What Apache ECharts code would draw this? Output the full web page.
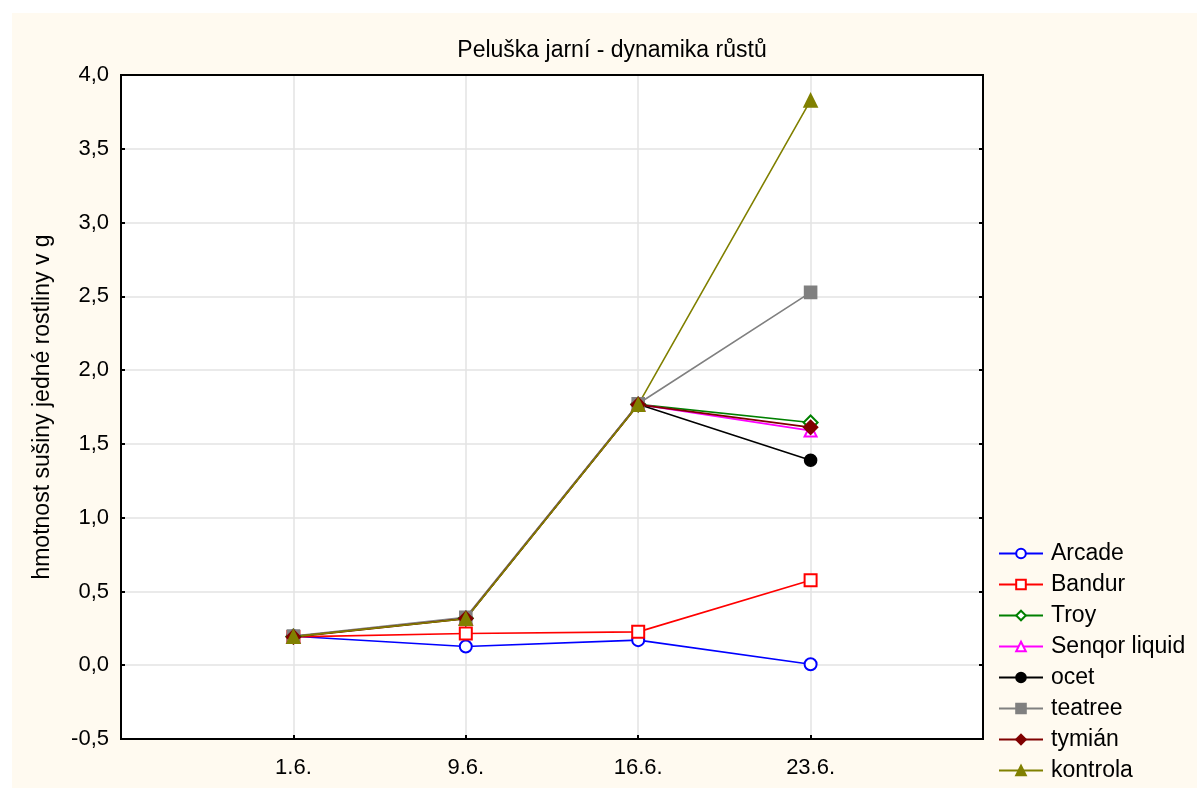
<!DOCTYPE html>
<html>
<head>
<meta charset="utf-8">
<script src="https://cdn.jsdelivr.net/npm/echarts@6/dist/echarts.min.js"></script>
<style>
  html, body { margin: 0; padding: 0; background: #ffffff; }
  #chart { position: absolute; left: 12px; top: 13px; width: 1185px; height: 775px; background: #FFFAF0; }
</style>
</head>
<body>
<div id="chart"></div>
<script>
const dates = ['1.6.', '9.6.', '16.6.', '23.6.'];
const yTicks = [-0.5, 0, 0.5, 1, 1.5, 2, 2.5, 3, 3.5, 4];

const arcade   = [0.196, 0.127, 0.170, 0.007];
const bandur   = [0.192, 0.215, 0.226, 0.576];
const troy     = [0.195, 0.318, 1.768, 1.645];
const senqor   = [0.195, 0.318, 1.768, 1.590];
const ocet     = [0.195, 0.318, 1.768, 1.389];
const teatree  = [0.198, 0.325, 1.772, 2.527];
const tymian   = [0.192, 0.316, 1.766, 1.612];
const kontrola = [0.194, 0.315, 1.766, 3.828];

const seriesDefs = [
  { name: 'Arcade', data: arcade, color: '#0000FF', symbol: 'emptyCircle', size: 12 },
  { name: 'Bandur', data: bandur, color: '#FF0000', symbol: 'emptyRect', size: 12 },
  { name: 'Troy', data: troy, color: '#008000', symbol: 'emptyDiamond', size: 14 },
  { name: 'Senqor liquid', data: senqor, color: '#FF00FF', symbol: 'emptyTriangle', size: 12 },
  { name: 'ocet', data: ocet, color: '#000000', symbol: 'circle', size: 12 },
  { name: 'teatree', data: teatree, color: '#808080', symbol: 'rect', size: 12 },
  { name: 'tymián', data: tymian, color: '#800000', symbol: 'diamond', size: 14 },
  { name: 'kontrola', data: kontrola, color: '#808000', symbol: 'triangle', size: 13 }
];

const font = 'Liberation Sans, Arial, sans-serif';
const chart = echarts.init(document.getElementById('chart'));

const series = seriesDefs.map(s => ({
  name: s.name,
  type: 'line',
  data: s.data.map((v, i) => [i + 1, v]),
  symbol: s.symbol,
  symbolSize: s.size,
  showSymbol: true,
  color: s.color,
  lineStyle: { color: s.color, width: 1.6 },
  itemStyle: { color: s.color, borderColor: s.color, borderWidth: 1.6 },
  animation: false
}));

const blackLine = { show: true, onZero: false, lineStyle: { color: '#000', width: 2 } };
const inTick = { show: true, inside: true, length: 4, lineStyle: { color: '#000', width: 2 } };
const grayGrid = { show: true, lineStyle: { color: '#E3E3E3', width: 1.5 } };

chart.setOption({
  animation: false,
  backgroundColor: '#FFFAF0',
  title: {
    text: 'Peluška jarní - dynamika růstů',
    left: 595, top: 21, textAlign: 'center',
    textStyle: { fontFamily: font, fontSize: 23, fontWeight: 'normal', color: '#000' }
  },
  grid: {
    left: 109, top: 62, width: 862, height: 664,
    show: true, backgroundColor: '#FFFFFF', borderColor: '#000000', borderWidth: 2
  },
  legend: {
    orient: 'vertical', left: 986, top: 529, padding: 0, height: 246,
    itemWidth: 44, itemHeight: 12, itemGap: 8,
    textStyle: { fontFamily: font, fontSize: 23, color: '#000', padding: [0, 0, 0, 3] },
    data: seriesDefs.map(s => s.name)
  },
  xAxis: [{
    type: 'value', min: 0, max: 5, interval: 1,
    axisLine: blackLine,
    axisTick: inTick,
    splitLine: grayGrid,
    axisLabel: {
      margin: 18, fontFamily: font, fontSize: 22, color: '#000',
      formatter: v => dates[v - 1] || ''
    }
  }, {
    type: 'value', position: 'top', min: 0, max: 5, interval: 1,
    axisLine: blackLine,
    axisTick: { show: false },
    splitLine: { show: false },
    axisLabel: { show: false }
  }],
  yAxis: [{
    type: 'value', min: yTicks[0], max: yTicks[yTicks.length - 1], interval: 0.5,
    name: 'hmotnost sušiny jedné rostliny v g',
    nameLocation: 'middle', nameGap: 67, nameRotate: 90,
    nameTextStyle: { fontFamily: font, fontSize: 23, color: '#000' },
    axisLine: blackLine,
    axisTick: inTick,
    splitLine: grayGrid,
    axisLabel: {
      margin: 12, fontFamily: font, fontSize: 22, color: '#000',
      formatter: v => v.toFixed(1).replace('.', ',')
    }
  }, {
    type: 'value', position: 'right', min: yTicks[0], max: yTicks[yTicks.length - 1], interval: 0.5,
    axisLine: blackLine,
    axisTick: inTick,
    splitLine: { show: false },
    axisLabel: { show: false }
  }],
  series: series
});
</script>
</body>
</html>
